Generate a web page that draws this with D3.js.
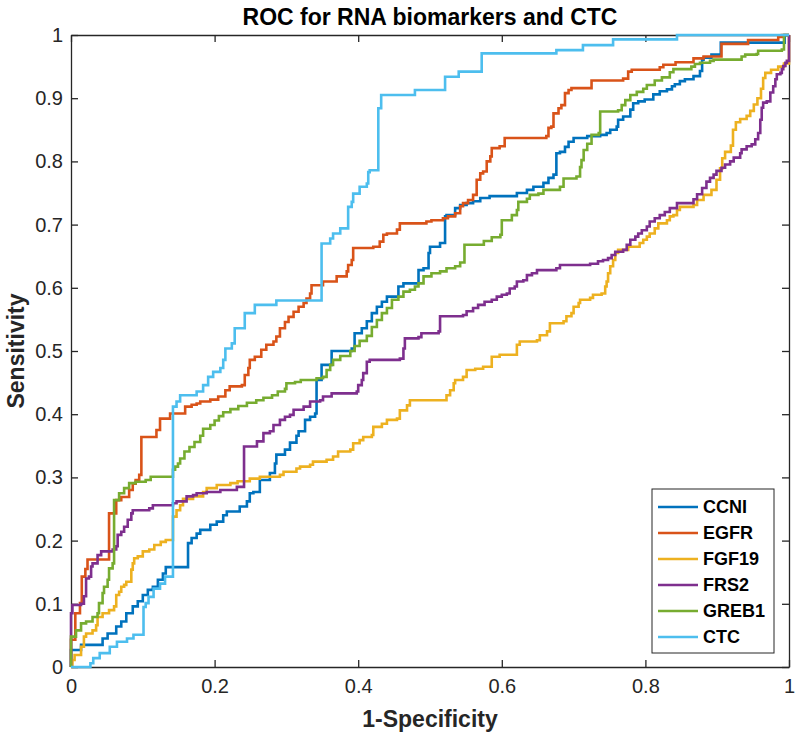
<!DOCTYPE html>
<html>
<head>
<meta charset="utf-8">
<script src="https://cdn.jsdelivr.net/npm/d3@7/dist/d3.min.js"></script>
<style>
  html, body { margin: 0; padding: 0; background: #fff; }
  svg { display: block; }
  text { font-family: "Liberation Sans", Arial, Helvetica, sans-serif; }
</style>
</head>
<body>
<svg id="chart" width="800" height="738"></svg>
<script>
// ---------------- data ----------------
const chartTitle = "ROC for RNA biomarkers and CTC";
const xLabel = "1-Specificity";
const yLabel = "Sensitivity";
const xTicks = [0, 0.2, 0.4, 0.6, 0.8, 1];
const yTicks = [0, 0.1, 0.2, 0.3, 0.4, 0.5, 0.6, 0.7, 0.8, 0.9, 1];
const seriesNames = ["CCNI", "EGFR", "FGF19", "FRS2", "GREB1", "CTC"];
const seriesColors = ["#0072BD", "#D95319", "#EDB120", "#7E2F8E", "#77AC30", "#4DBEEE"];

// ROC step points [1-specificity, sensitivity]; each point starts a horizontal run
const ccni = [[0,0],[0,0.027],[0.014,0.035],[0.044,0.045],[0.051,0.053],[0.063,0.064],[0.070,0.072],[0.077,0.085],[0.086,0.096],[0.093,0.104],[0.100,0.114],[0.107,0.122],[0.114,0.127],[0.121,0.138],[0.128,0.148],[0.132,0.158],[0.163,0.196],[0.168,0.204],[0.175,0.211],[0.180,0.217],[0.194,0.225],[0.203,0.230],[0.212,0.240],[0.217,0.246],[0.235,0.254],[0.245,0.262],[0.249,0.275],[0.254,0.277],[0.263,0.296],[0.277,0.307],[0.284,0.322],[0.286,0.336],[0.298,0.344],[0.305,0.355],[0.314,0.366],[0.317,0.373],[0.326,0.391],[0.333,0.396],[0.340,0.401],[0.342,0.454],[0.349,0.478],[0.363,0.500],[0.391,0.504],[0.395,0.528],[0.405,0.536],[0.412,0.547],[0.419,0.560],[0.426,0.570],[0.433,0.578],[0.440,0.586],[0.456,0.602],[0.463,0.607],[0.484,0.628],[0.491,0.631],[0.498,0.655],[0.500,0.665],[0.514,0.671],[0.521,0.713],[0.523,0.715],[0.535,0.726],[0.542,0.731],[0.551,0.734],[0.560,0.737],[0.570,0.742],[0.583,0.745],[0.621,0.750],[0.635,0.755],[0.644,0.760],[0.658,0.766],[0.665,0.774],[0.672,0.779],[0.676,0.813],[0.681,0.815],[0.688,0.823],[0.693,0.831],[0.700,0.837],[0.719,0.840],[0.737,0.842],[0.746,0.845],[0.751,0.850],[0.760,0.855],[0.762,0.866],[0.769,0.871],[0.779,0.882],[0.783,0.892],[0.790,0.895],[0.799,0.898],[0.811,0.906],[0.820,0.911],[0.830,0.914],[0.837,0.919],[0.841,0.922],[0.848,0.927],[0.855,0.930],[0.867,0.935],[0.876,0.943],[0.879,0.961],[0.881,0.964],[0.892,0.969],[0.905,0.988],[0.994,1],[1,1]];

const egfr = [[0,0],[0,0.043],[0.006,0.085],[0.0125,0.101],[0.015,0.143],[0.020,0.155],[0.023,0.170],[0.053,0.243],[0.063,0.264],[0.070,0.269],[0.081,0.280],[0.086,0.290],[0.090,0.296],[0.095,0.304],[0.098,0.364],[0.119,0.375],[0.124,0.393],[0.138,0.401],[0.159,0.412],[0.168,0.415],[0.175,0.417],[0.180,0.420],[0.194,0.423],[0.205,0.428],[0.215,0.438],[0.221,0.444],[0.238,0.446],[0.242,0.462],[0.247,0.473],[0.249,0.486],[0.256,0.491],[0.265,0.502],[0.272,0.510],[0.282,0.515],[0.286,0.523],[0.291,0.536],[0.298,0.546],[0.303,0.554],[0.310,0.562],[0.317,0.570],[0.324,0.576],[0.328,0.583],[0.333,0.591],[0.335,0.604],[0.351,0.610],[0.370,0.618],[0.384,0.626],[0.386,0.636],[0.391,0.644],[0.393,0.663],[0.421,0.665],[0.430,0.673],[0.435,0.684],[0.440,0.686],[0.454,0.692],[0.458,0.702],[0.495,0.705],[0.502,0.707],[0.518,0.710],[0.525,0.713],[0.535,0.718],[0.542,0.729],[0.546,0.734],[0.553,0.739],[0.560,0.747],[0.565,0.771],[0.570,0.781],[0.574,0.784],[0.579,0.800],[0.584,0.808],[0.586,0.821],[0.597,0.824],[0.604,0.837],[0.662,0.840],[0.665,0.853],[0.669,0.855],[0.672,0.876],[0.679,0.884],[0.683,0.889],[0.688,0.908],[0.693,0.913],[0.697,0.916],[0.725,0.928],[0.769,0.931],[0.776,0.942],[0.781,0.945],[0.820,0.949],[0.825,0.953],[0.842,0.957],[0.867,0.963],[0.881,0.966],[0.906,0.986],[0.943,0.992],[0.985,0.997],[0.990,1],[1,1]];

const fgf19 = [[0,0],[0.002,0.011],[0.005,0.019],[0.014,0.032],[0.018,0.048],[0.021,0.053],[0.030,0.058],[0.035,0.066],[0.037,0.079],[0.044,0.085],[0.053,0.090],[0.060,0.096],[0.063,0.114],[0.067,0.119],[0.070,0.127],[0.074,0.130],[0.077,0.135],[0.084,0.154],[0.086,0.164],[0.088,0.172],[0.093,0.175],[0.100,0.183],[0.109,0.186],[0.116,0.193],[0.125,0.198],[0.132,0.201],[0.142,0.238],[0.147,0.248],[0.152,0.256],[0.156,0.266],[0.170,0.270],[0.184,0.277],[0.189,0.283],[0.203,0.288],[0.222,0.291],[0.232,0.294],[0.249,0.298],[0.263,0.301],[0.291,0.304],[0.296,0.309],[0.314,0.314],[0.319,0.317],[0.333,0.320],[0.337,0.325],[0.356,0.328],[0.365,0.333],[0.372,0.341],[0.389,0.344],[0.393,0.354],[0.402,0.359],[0.407,0.364],[0.419,0.367],[0.421,0.380],[0.433,0.385],[0.440,0.391],[0.454,0.393],[0.458,0.406],[0.468,0.414],[0.472,0.422],[0.519,0.422],[0.523,0.430],[0.528,0.438],[0.533,0.449],[0.535,0.454],[0.546,0.459],[0.551,0.470],[0.563,0.472],[0.574,0.475],[0.586,0.491],[0.597,0.494],[0.621,0.510],[0.625,0.515],[0.649,0.517],[0.653,0.525],[0.663,0.531],[0.667,0.544],[0.686,0.547],[0.690,0.555],[0.697,0.560],[0.700,0.570],[0.707,0.576],[0.709,0.581],[0.723,0.584],[0.727,0.589],[0.739,0.591],[0.744,0.602],[0.746,0.610],[0.748,0.623],[0.751,0.634],[0.755,0.644],[0.758,0.655],[0.762,0.660],[0.776,0.665],[0.792,0.671],[0.797,0.676],[0.802,0.681],[0.806,0.686],[0.813,0.694],[0.818,0.702],[0.830,0.707],[0.834,0.713],[0.839,0.715],[0.844,0.723],[0.848,0.728],[0.867,0.731],[0.872,0.739],[0.881,0.747],[0.892,0.755],[0.899,0.771],[0.904,0.789],[0.907,0.805],[0.911,0.815],[0.919,0.825],[0.922,0.850],[0.926,0.862],[0.932,0.867],[0.941,0.872],[0.946,0.880],[0.951,0.890],[0.956,0.900],[0.961,0.915],[0.964,0.932],[0.967,0.940],[0.975,0.945],[0.985,0.950],[0.993,0.955],[1,1]];

const frs2 = [[0,0],[0,0.085],[0.002,0.098],[0.014,0.100],[0.018,0.112],[0.021,0.140],[0.025,0.143],[0.028,0.159],[0.030,0.164],[0.037,0.177],[0.042,0.183],[0.058,0.186],[0.063,0.191],[0.065,0.209],[0.070,0.214],[0.074,0.222],[0.079,0.233],[0.084,0.243],[0.086,0.248],[0.109,0.251],[0.114,0.256],[0.142,0.259],[0.147,0.262],[0.161,0.270],[0.170,0.272],[0.175,0.275],[0.189,0.277],[0.208,0.280],[0.231,0.285],[0.241,0.349],[0.259,0.357],[0.268,0.370],[0.277,0.373],[0.282,0.383],[0.291,0.391],[0.298,0.396],[0.305,0.399],[0.310,0.407],[0.324,0.412],[0.333,0.420],[0.347,0.422],[0.351,0.428],[0.363,0.433],[0.398,0.436],[0.400,0.446],[0.405,0.454],[0.407,0.465],[0.412,0.483],[0.416,0.486],[0.458,0.488],[0.463,0.504],[0.465,0.520],[0.484,0.522],[0.488,0.528],[0.512,0.531],[0.514,0.555],[0.546,0.557],[0.551,0.563],[0.560,0.568],[0.567,0.573],[0.576,0.578],[0.586,0.581],[0.593,0.586],[0.600,0.589],[0.607,0.591],[0.611,0.599],[0.618,0.602],[0.621,0.610],[0.630,0.612],[0.635,0.620],[0.642,0.623],[0.649,0.628],[0.676,0.631],[0.681,0.636],[0.723,0.638],[0.734,0.642],[0.741,0.644],[0.748,0.647],[0.753,0.652],[0.758,0.657],[0.769,0.660],[0.774,0.668],[0.779,0.676],[0.786,0.681],[0.790,0.686],[0.795,0.691],[0.802,0.697],[0.806,0.705],[0.813,0.710],[0.820,0.715],[0.827,0.720],[0.834,0.726],[0.844,0.734],[0.867,0.740],[0.872,0.748],[0.879,0.758],[0.885,0.768],[0.890,0.774],[0.895,0.779],[0.899,0.785],[0.906,0.790],[0.911,0.795],[0.918,0.800],[0.923,0.806],[0.932,0.813],[0.934,0.819],[0.941,0.824],[0.948,0.827],[0.953,0.835],[0.957,0.845],[0.960,0.866],[0.962,0.885],[0.964,0.893],[0.969,0.895],[0.974,0.909],[0.978,0.919],[0.981,0.930],[0.983,0.938],[0.988,0.940],[0.990,0.946],[0.992,0.951],[0.995,0.956],[0.997,0.959],[1,1]];

const greb1 = [[0,0],[0,0.048],[0.007,0.058],[0.014,0.069],[0.021,0.072],[0.030,0.079],[0.037,0.085],[0.039,0.101],[0.044,0.117],[0.046,0.127],[0.051,0.138],[0.053,0.156],[0.058,0.164],[0.060,0.264],[0.067,0.275],[0.074,0.283],[0.081,0.291],[0.090,0.293],[0.104,0.296],[0.111,0.301],[0.142,0.312],[0.145,0.317],[0.149,0.322],[0.152,0.330],[0.158,0.341],[0.165,0.348],[0.172,0.356],[0.180,0.366],[0.184,0.377],[0.194,0.383],[0.200,0.390],[0.206,0.397],[0.212,0.403],[0.222,0.408],[0.233,0.413],[0.245,0.418],[0.258,0.422],[0.268,0.426],[0.280,0.430],[0.288,0.436],[0.298,0.440],[0.300,0.449],[0.312,0.451],[0.320,0.454],[0.342,0.457],[0.351,0.459],[0.356,0.470],[0.361,0.478],[0.365,0.486],[0.375,0.492],[0.389,0.500],[0.395,0.508],[0.402,0.516],[0.412,0.524],[0.419,0.538],[0.426,0.549],[0.433,0.560],[0.440,0.568],[0.447,0.581],[0.456,0.586],[0.463,0.594],[0.472,0.597],[0.479,0.602],[0.484,0.607],[0.491,0.618],[0.502,0.623],[0.514,0.626],[0.523,0.631],[0.535,0.634],[0.542,0.640],[0.548,0.668],[0.575,0.674],[0.586,0.680],[0.598,0.684],[0.600,0.707],[0.614,0.715],[0.621,0.723],[0.623,0.736],[0.635,0.741],[0.639,0.747],[0.651,0.749],[0.658,0.755],[0.681,0.760],[0.686,0.773],[0.704,0.776],[0.709,0.791],[0.711,0.802],[0.714,0.818],[0.719,0.828],[0.725,0.842],[0.735,0.845],[0.737,0.879],[0.762,0.881],[0.767,0.889],[0.772,0.897],[0.779,0.905],[0.788,0.910],[0.797,0.915],[0.802,0.921],[0.813,0.928],[0.823,0.933],[0.834,0.941],[0.839,0.946],[0.864,0.950],[0.869,0.954],[0.876,0.956],[0.890,0.959],[0.895,0.961],[0.934,0.966],[0.939,0.969],[0.955,0.970],[0.957,0.975],[0.990,0.977],[0.993,1],[1,1]];

const ctc = [[0,0],[0.027,0.006],[0.031,0.014],[0.040,0.022],[0.054,0.032],[0.064,0.040],[0.078,0.045],[0.087,0.051],[0.101,0.095],[0.104,0.101],[0.108,0.111],[0.115,0.124],[0.124,0.132],[0.131,0.143],[0.142,0.412],[0.147,0.420],[0.152,0.430],[0.175,0.436],[0.184,0.446],[0.191,0.459],[0.198,0.467],[0.208,0.473],[0.212,0.486],[0.215,0.504],[0.224,0.512],[0.228,0.536],[0.242,0.560],[0.256,0.573],[0.286,0.580],[0.349,0.670],[0.361,0.678],[0.365,0.686],[0.375,0.694],[0.386,0.728],[0.391,0.736],[0.393,0.749],[0.402,0.760],[0.412,0.765],[0.414,0.783],[0.416,0.786],[0.428,0.884],[0.432,0.905],[0.479,0.913],[0.521,0.934],[0.540,0.942],[0.572,0.971],[0.676,0.976],[0.713,0.984],[0.755,0.993],[0.844,1],[1,1]];

const seriesData = [ccni, egfr, fgf19, frs2, greb1, ctc];

// ---------------- layout ----------------
const svg = d3.select("#chart");
const plotLeft = 71, plotRight = 789, plotTop = 35, plotBottom = 667;
const x = d3.scaleLinear().domain([0, 1]).range([plotLeft, plotRight]);
const y = d3.scaleLinear().domain([0, 1]).range([plotBottom, plotTop]);
const axisColor = "#262626";
const tickLen = 7;

svg.append("rect").attr("width", 800).attr("height", 738).attr("fill", "#fff");

function styleAxis(g) {
  g.selectAll("path.domain").attr("stroke", axisColor).attr("stroke-width", 1.3);
  g.selectAll(".tick line").attr("stroke", axisColor).attr("stroke-width", 1.3);
  g.selectAll(".tick text").attr("fill", axisColor)
    .style("font-family", '"Liberation Sans", Arial, sans-serif');
}

svg.append("g").attr("transform", `translate(0,${plotBottom})`)
  .call(d3.axisBottom(x).tickValues(xTicks).tickFormat(d => String(d))
    .tickSizeInner(-tickLen).tickSizeOuter(0).tickPadding(12))
  .call(styleAxis)
  .call(g => g.selectAll(".tick text").attr("font-size", 20));

svg.append("g").attr("transform", `translate(0,${plotTop})`)
  .call(d3.axisTop(x).tickValues(xTicks).tickFormat("")
    .tickSizeInner(-tickLen).tickSizeOuter(0))
  .call(styleAxis);

svg.append("g").attr("transform", `translate(${plotLeft},0)`)
  .call(d3.axisLeft(y).tickValues(yTicks).tickFormat(d => String(d))
    .tickSizeInner(-tickLen).tickSizeOuter(0).tickPadding(8))
  .call(styleAxis)
  .call(g => g.selectAll(".tick text").attr("font-size", 20));

svg.append("g").attr("transform", `translate(${plotRight},0)`)
  .call(d3.axisRight(y).tickValues(yTicks).tickFormat("")
    .tickSizeInner(-tickLen).tickSizeOuter(0))
  .call(styleAxis);

// ---------------- curves ----------------
const line = d3.line()
  .x(d => x(d[0]))
  .y(d => y(d[1]))
  .curve(d3.curveStepAfter);

svg.append("g").selectAll("path.roc")
  .data(seriesData)
  .join("path")
  .attr("class", "roc")
  .attr("d", d => line(d))
  .attr("fill", "none")
  .attr("stroke", (d, i) => seriesColors[i])
  .attr("stroke-width", 2.6)
  .attr("stroke-linejoin", "miter");

// ---------------- texts ----------------
svg.append("text")
  .attr("x", (plotLeft + plotRight) / 2).attr("y", 25)
  .attr("text-anchor", "middle")
  .attr("font-size", 23).attr("font-weight", "bold").attr("fill", "#000")
  .text(chartTitle);

svg.append("text")
  .attr("x", (plotLeft + plotRight) / 2).attr("y", 727)
  .attr("text-anchor", "middle")
  .attr("font-size", 23).attr("font-weight", "bold").attr("fill", axisColor)
  .text(xLabel);

svg.append("text")
  .attr("transform", `translate(24,${(plotTop + plotBottom) / 2}) rotate(-90)`)
  .attr("text-anchor", "middle")
  .attr("font-size", 23).attr("font-weight", "bold").attr("fill", axisColor)
  .text(yLabel);

// ---------------- legend ----------------
const lg = svg.append("g").attr("transform", "translate(652,489)");
lg.append("rect").attr("width", 122).attr("height", 164)
  .attr("fill", "#fff").attr("stroke", axisColor).attr("stroke-width", 1);
const rowY = d3.scalePoint().domain(seriesNames).range([18, 148]);
const items = lg.selectAll("g.item").data(seriesNames).join("g")
  .attr("class", "item")
  .attr("transform", d => `translate(0,${rowY(d)})`);
items.append("line").attr("x1", 6).attr("x2", 46)
  .attr("stroke", (d, i) => seriesColors[i]).attr("stroke-width", 2.6);
items.append("text").attr("x", 51).attr("dy", "0.36em")
  .attr("font-size", 18).attr("font-weight", "bold").attr("fill", "#000")
  .text(d => d);
</script>
</body>
</html>
